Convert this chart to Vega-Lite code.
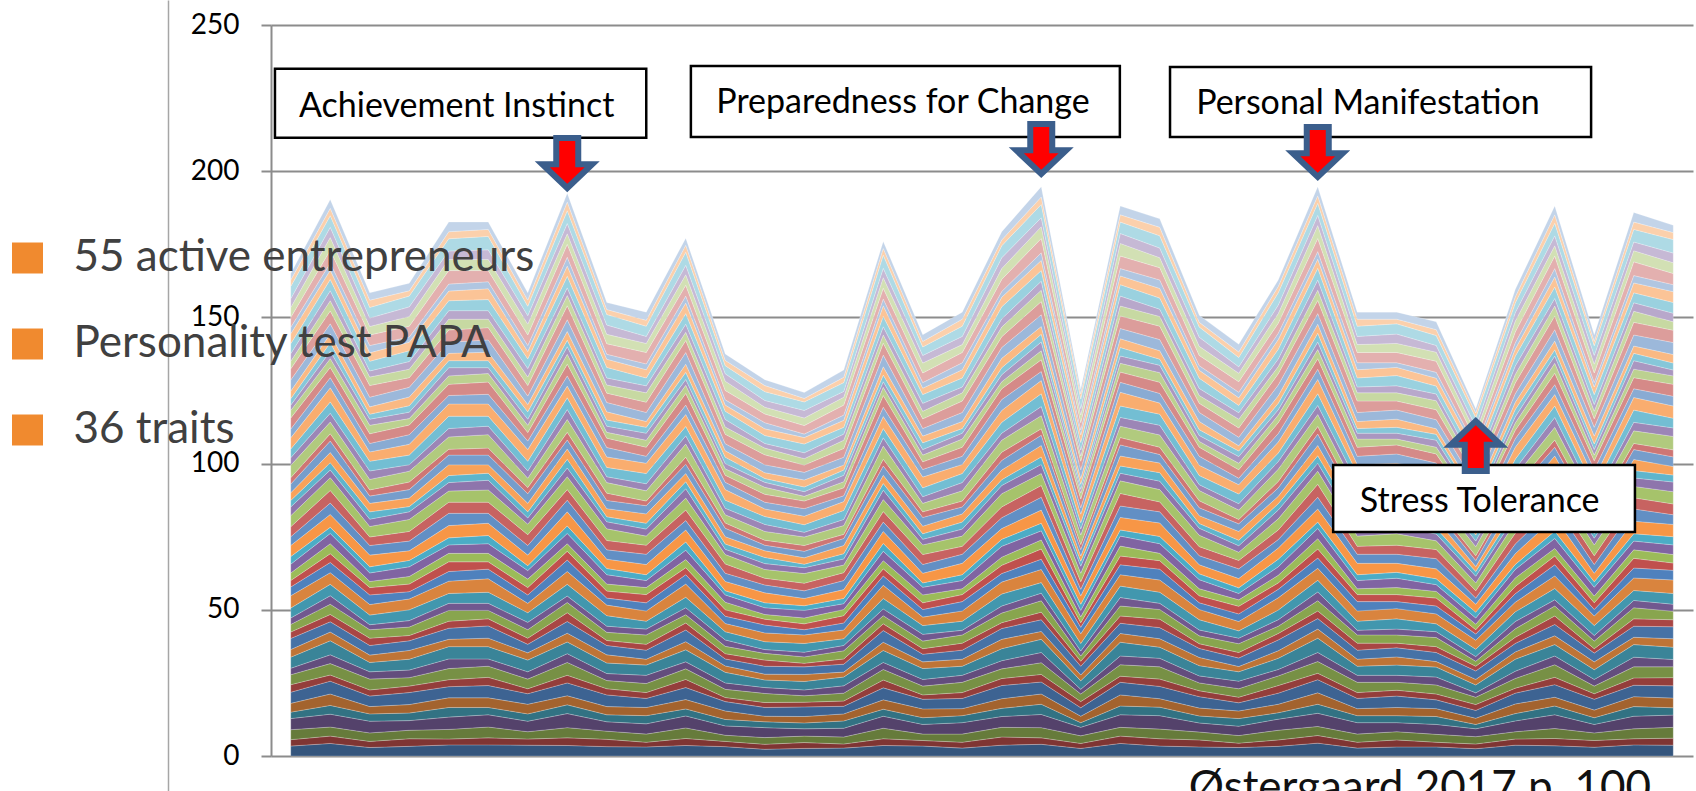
{
"$schema":"https://vega.github.io/schema/vega-lite/v6.json",
"autosize":{"type":"none"},
"padding":{"left":271,"top":25,"right":3,"bottom":35},
"width":1422,"height":731,
"background":"#ffffff",
"config":{"view":{"stroke":null},"font":"Lato"},
"title":{"text":"Østergaard 2017 p. 100","orient":"bottom","anchor":"end","frame":"group","offset":-14,"baseline":"alphabetic","font":"Lato","fontSize":44,"fontWeight":"normal","color":"#111111","dx":-42},
"datasets":{
"d":[
{"s":1,"t":1,"v":3.4},{"s":2,"t":1,"v":2.2},{"s":3,"t":1,"v":3.4},{"s":4,"t":1,"v":3.8},{"s":5,"t":1,"v":2.2},{"s":6,"t":1,"v":3.0},{"s":7,"t":1,"v":3.8},{"s":8,"t":1,"v":2.6},{"s":9,"t":1,"v":3.4},{"s":10,"t":1,"v":2.2},{"s":11,"t":1,"v":3.8},{"s":12,"t":1,"v":2.6},{"s":13,"t":1,"v":3.8},{"s":14,"t":1,"v":2.2},{"s":15,"t":1,"v":2.6},{"s":16,"t":1,"v":2.2},{"s":17,"t":1,"v":3.4},{"s":18,"t":1,"v":4.2},{"s":19,"t":1,"v":3.0},{"s":20,"t":1,"v":2.2},{"s":21,"t":1,"v":2.6},{"s":22,"t":1,"v":3.0},{"s":23,"t":1,"v":2.6},{"s":24,"t":1,"v":3.8},{"s":25,"t":1,"v":3.0},{"s":26,"t":1,"v":3.4},{"s":27,"t":1,"v":3.8},{"s":28,"t":1,"v":3.0},{"s":29,"t":1,"v":2.2},{"s":30,"t":1,"v":2.6},{"s":31,"t":1,"v":3.0},{"s":32,"t":1,"v":2.2},{"s":33,"t":1,"v":4.2},{"s":34,"t":1,"v":2.6},{"s":35,"t":1,"v":3.0},{"s":36,"t":1,"v":3.8},{"s":37,"t":1,"v":3.0},{"s":38,"t":1,"v":3.8},{"s":39,"t":1,"v":2.6},{"s":40,"t":1,"v":1.8},{"s":41,"t":1,"v":2.2},{"s":42,"t":1,"v":2.6},{"s":43,"t":1,"v":3.8},{"s":44,"t":1,"v":3.8},{"s":45,"t":1,"v":2.6},{"s":46,"t":1,"v":2.6},{"s":47,"t":1,"v":3.4},{"s":48,"t":1,"v":3.4},{"s":49,"t":1,"v":2.2},{"s":50,"t":1,"v":3.4},{"s":51,"t":1,"v":3.4},{"s":52,"t":1,"v":3.0},{"s":53,"t":1,"v":4.2},{"s":54,"t":1,"v":2.2},{"s":55,"t":1,"v":2.2},
{"s":1,"t":2,"v":4.3},{"s":2,"t":2,"v":2.5},{"s":3,"t":2,"v":3.1},{"s":4,"t":2,"v":4.4},{"s":5,"t":2,"v":3.0},{"s":6,"t":2,"v":3.9},{"s":7,"t":2,"v":4.4},{"s":8,"t":2,"v":2.1},{"s":9,"t":2,"v":3.9},{"s":10,"t":2,"v":3.0},{"s":11,"t":2,"v":4.8},{"s":12,"t":2,"v":3.0},{"s":13,"t":2,"v":3.5},{"s":14,"t":2,"v":2.5},{"s":15,"t":2,"v":3.5},{"s":16,"t":2,"v":2.9},{"s":17,"t":2,"v":3.9},{"s":18,"t":2,"v":4.0},{"s":19,"t":2,"v":3.5},{"s":20,"t":2,"v":3.0},{"s":21,"t":2,"v":3.4},{"s":22,"t":2,"v":3.5},{"s":23,"t":2,"v":2.1},{"s":24,"t":2,"v":4.4},{"s":25,"t":2,"v":3.9},{"s":26,"t":2,"v":4.3},{"s":27,"t":2,"v":4.4},{"s":28,"t":2,"v":2.6},{"s":29,"t":2,"v":2.5},{"s":30,"t":2,"v":3.5},{"s":31,"t":2,"v":3.9},{"s":32,"t":2,"v":2.5},{"s":33,"t":2,"v":4.0},{"s":34,"t":2,"v":3.0},{"s":35,"t":2,"v":3.9},{"s":36,"t":2,"v":4.8},{"s":37,"t":2,"v":3.5},{"s":38,"t":2,"v":3.5},{"s":39,"t":2,"v":3.0},{"s":40,"t":2,"v":2.5},{"s":41,"t":2,"v":2.9},{"s":42,"t":2,"v":3.0},{"s":43,"t":2,"v":3.5},{"s":44,"t":2,"v":4.4},{"s":45,"t":2,"v":3.5},{"s":46,"t":2,"v":3.4},{"s":47,"t":2,"v":3.9},{"s":48,"t":2,"v":3.1},{"s":49,"t":2,"v":2.5},{"s":50,"t":2,"v":4.4},{"s":51,"t":2,"v":4.3},{"s":52,"t":2,"v":3.5},{"s":53,"t":2,"v":4.0},{"s":54,"t":2,"v":2.5},{"s":55,"t":2,"v":3.0},
{"s":1,"t":3,"v":2.9},{"s":2,"t":3,"v":2.1},{"s":3,"t":3,"v":2.9},{"s":4,"t":3,"v":4.0},{"s":5,"t":3,"v":2.5},{"s":6,"t":3,"v":2.5},{"s":7,"t":3,"v":3.6},{"s":8,"t":3,"v":2.1},{"s":9,"t":3,"v":3.7},{"s":10,"t":3,"v":2.5},{"s":11,"t":3,"v":3.2},{"s":12,"t":3,"v":2.5},{"s":13,"t":3,"v":3.3},{"s":14,"t":3,"v":2.5},{"s":15,"t":3,"v":2.9},{"s":16,"t":3,"v":1.7},{"s":17,"t":3,"v":3.3},{"s":18,"t":3,"v":3.6},{"s":19,"t":3,"v":3.3},{"s":20,"t":3,"v":2.5},{"s":21,"t":3,"v":2.1},{"s":22,"t":3,"v":2.9},{"s":23,"t":3,"v":2.1},{"s":24,"t":3,"v":4.0},{"s":25,"t":3,"v":3.3},{"s":26,"t":3,"v":2.9},{"s":27,"t":3,"v":3.6},{"s":28,"t":3,"v":2.5},{"s":29,"t":3,"v":2.5},{"s":30,"t":3,"v":2.9},{"s":31,"t":3,"v":2.5},{"s":32,"t":3,"v":2.1},{"s":33,"t":3,"v":3.6},{"s":34,"t":3,"v":2.9},{"s":35,"t":3,"v":3.3},{"s":36,"t":3,"v":3.2},{"s":37,"t":3,"v":2.9},{"s":38,"t":3,"v":3.3},{"s":39,"t":3,"v":2.9},{"s":40,"t":3,"v":2.1},{"s":41,"t":3,"v":1.7},{"s":42,"t":3,"v":2.5},{"s":43,"t":3,"v":3.3},{"s":44,"t":3,"v":4.0},{"s":45,"t":3,"v":2.9},{"s":46,"t":3,"v":2.1},{"s":47,"t":3,"v":3.3},{"s":48,"t":3,"v":2.9},{"s":49,"t":3,"v":2.5},{"s":50,"t":3,"v":3.6},{"s":51,"t":3,"v":2.9},{"s":52,"t":3,"v":2.9},{"s":53,"t":3,"v":3.6},{"s":54,"t":3,"v":2.5},{"s":55,"t":3,"v":2.5},
{"s":1,"t":4,"v":3.3},{"s":2,"t":4,"v":2.6},{"s":3,"t":4,"v":2.9},{"s":4,"t":4,"v":3.3},{"s":5,"t":4,"v":2.6},{"s":6,"t":4,"v":2.9},{"s":7,"t":4,"v":4.1},{"s":8,"t":4,"v":2.2},{"s":9,"t":4,"v":2.9},{"s":10,"t":4,"v":2.6},{"s":11,"t":4,"v":3.7},{"s":12,"t":4,"v":3.0},{"s":13,"t":4,"v":3.3},{"s":14,"t":4,"v":1.8},{"s":15,"t":4,"v":2.9},{"s":16,"t":4,"v":2.2},{"s":17,"t":4,"v":3.7},{"s":18,"t":4,"v":3.7},{"s":19,"t":4,"v":2.5},{"s":20,"t":4,"v":2.6},{"s":21,"t":4,"v":2.6},{"s":22,"t":4,"v":3.3},{"s":23,"t":4,"v":2.2},{"s":24,"t":4,"v":3.3},{"s":25,"t":4,"v":3.3},{"s":26,"t":4,"v":3.3},{"s":27,"t":4,"v":4.1},{"s":28,"t":4,"v":2.6},{"s":29,"t":4,"v":1.8},{"s":30,"t":4,"v":2.9},{"s":31,"t":4,"v":2.9},{"s":32,"t":4,"v":2.6},{"s":33,"t":4,"v":3.7},{"s":34,"t":4,"v":2.2},{"s":35,"t":4,"v":3.3},{"s":36,"t":4,"v":3.7},{"s":37,"t":4,"v":3.3},{"s":38,"t":4,"v":3.3},{"s":39,"t":4,"v":2.2},{"s":40,"t":4,"v":2.2},{"s":41,"t":4,"v":2.2},{"s":42,"t":4,"v":3.0},{"s":43,"t":4,"v":3.3},{"s":44,"t":4,"v":3.3},{"s":45,"t":4,"v":2.9},{"s":46,"t":4,"v":2.6},{"s":47,"t":4,"v":3.7},{"s":48,"t":4,"v":2.9},{"s":49,"t":4,"v":1.8},{"s":50,"t":4,"v":3.7},{"s":51,"t":4,"v":3.3},{"s":52,"t":4,"v":3.3},{"s":53,"t":4,"v":3.7},{"s":54,"t":4,"v":1.8},{"s":55,"t":4,"v":2.6},
{"s":1,"t":5,"v":3.8},{"s":2,"t":5,"v":2.0},{"s":3,"t":5,"v":3.3},{"s":4,"t":5,"v":4.2},{"s":5,"t":5,"v":3.3},{"s":6,"t":5,"v":3.3},{"s":7,"t":5,"v":3.8},{"s":8,"t":5,"v":2.4},{"s":9,"t":5,"v":3.8},{"s":10,"t":5,"v":3.3},{"s":11,"t":5,"v":4.2},{"s":12,"t":5,"v":2.5},{"s":13,"t":5,"v":3.8},{"s":14,"t":5,"v":2.4},{"s":15,"t":5,"v":3.7},{"s":16,"t":5,"v":2.4},{"s":17,"t":5,"v":3.4},{"s":18,"t":5,"v":4.2},{"s":19,"t":5,"v":3.3},{"s":20,"t":5,"v":3.3},{"s":21,"t":5,"v":2.9},{"s":22,"t":5,"v":2.9},{"s":23,"t":5,"v":2.4},{"s":24,"t":5,"v":4.2},{"s":25,"t":5,"v":4.2},{"s":26,"t":5,"v":3.8},{"s":27,"t":5,"v":3.8},{"s":28,"t":5,"v":2.9},{"s":29,"t":5,"v":2.4},{"s":30,"t":5,"v":3.7},{"s":31,"t":5,"v":3.3},{"s":32,"t":5,"v":2.0},{"s":33,"t":5,"v":4.2},{"s":34,"t":5,"v":2.9},{"s":35,"t":5,"v":4.2},{"s":36,"t":5,"v":4.2},{"s":37,"t":5,"v":2.9},{"s":38,"t":5,"v":3.8},{"s":39,"t":5,"v":2.9},{"s":40,"t":5,"v":2.8},{"s":41,"t":5,"v":2.4},{"s":42,"t":5,"v":2.5},{"s":43,"t":5,"v":3.8},{"s":44,"t":5,"v":4.2},{"s":45,"t":5,"v":3.7},{"s":46,"t":5,"v":2.9},{"s":47,"t":5,"v":3.4},{"s":48,"t":5,"v":3.3},{"s":49,"t":5,"v":2.4},{"s":50,"t":5,"v":4.6},{"s":51,"t":5,"v":3.8},{"s":52,"t":5,"v":2.9},{"s":53,"t":5,"v":4.2},{"s":54,"t":5,"v":2.4},{"s":55,"t":5,"v":3.3},
{"s":1,"t":6,"v":3.8},{"s":2,"t":6,"v":2.4},{"s":3,"t":6,"v":3.7},{"s":4,"t":6,"v":4.2},{"s":5,"t":6,"v":2.5},{"s":6,"t":6,"v":3.3},{"s":7,"t":6,"v":4.2},{"s":8,"t":6,"v":2.8},{"s":9,"t":6,"v":3.8},{"s":10,"t":6,"v":2.5},{"s":11,"t":6,"v":4.2},{"s":12,"t":6,"v":2.9},{"s":13,"t":6,"v":4.2},{"s":14,"t":6,"v":2.4},{"s":15,"t":6,"v":2.9},{"s":16,"t":6,"v":2.4},{"s":17,"t":6,"v":3.8},{"s":18,"t":6,"v":4.6},{"s":19,"t":6,"v":3.3},{"s":20,"t":6,"v":2.5},{"s":21,"t":6,"v":2.9},{"s":22,"t":6,"v":3.3},{"s":23,"t":6,"v":2.8},{"s":24,"t":6,"v":4.2},{"s":25,"t":6,"v":3.4},{"s":26,"t":6,"v":3.8},{"s":27,"t":6,"v":4.2},{"s":28,"t":6,"v":3.3},{"s":29,"t":6,"v":2.4},{"s":30,"t":6,"v":2.9},{"s":31,"t":6,"v":3.3},{"s":32,"t":6,"v":2.4},{"s":33,"t":6,"v":4.6},{"s":34,"t":6,"v":2.9},{"s":35,"t":6,"v":3.4},{"s":36,"t":6,"v":4.2},{"s":37,"t":6,"v":3.3},{"s":38,"t":6,"v":4.2},{"s":39,"t":6,"v":2.9},{"s":40,"t":6,"v":2.0},{"s":41,"t":6,"v":2.4},{"s":42,"t":6,"v":2.9},{"s":43,"t":6,"v":4.2},{"s":44,"t":6,"v":4.2},{"s":45,"t":6,"v":2.9},{"s":46,"t":6,"v":2.9},{"s":47,"t":6,"v":3.8},{"s":48,"t":6,"v":3.7},{"s":49,"t":6,"v":2.4},{"s":50,"t":6,"v":3.8},{"s":51,"t":6,"v":3.8},{"s":52,"t":6,"v":3.3},{"s":53,"t":6,"v":4.6},{"s":54,"t":6,"v":2.4},{"s":55,"t":6,"v":2.5},
{"s":1,"t":7,"v":3.7},{"s":2,"t":7,"v":2.1},{"s":3,"t":7,"v":2.5},{"s":4,"t":7,"v":3.6},{"s":5,"t":7,"v":2.5},{"s":6,"t":7,"v":3.3},{"s":7,"t":7,"v":3.6},{"s":8,"t":7,"v":1.7},{"s":9,"t":7,"v":3.3},{"s":10,"t":7,"v":2.5},{"s":11,"t":7,"v":4.0},{"s":12,"t":7,"v":2.5},{"s":13,"t":7,"v":2.9},{"s":14,"t":7,"v":2.1},{"s":15,"t":7,"v":2.9},{"s":16,"t":7,"v":2.5},{"s":17,"t":7,"v":3.3},{"s":18,"t":7,"v":3.2},{"s":19,"t":7,"v":2.9},{"s":20,"t":7,"v":2.5},{"s":21,"t":7,"v":2.9},{"s":22,"t":7,"v":2.9},{"s":23,"t":7,"v":1.7},{"s":24,"t":7,"v":3.6},{"s":25,"t":7,"v":3.3},{"s":26,"t":7,"v":3.7},{"s":27,"t":7,"v":3.6},{"s":28,"t":7,"v":2.1},{"s":29,"t":7,"v":2.1},{"s":30,"t":7,"v":2.9},{"s":31,"t":7,"v":3.3},{"s":32,"t":7,"v":2.1},{"s":33,"t":7,"v":3.2},{"s":34,"t":7,"v":2.5},{"s":35,"t":7,"v":3.3},{"s":36,"t":7,"v":4.0},{"s":37,"t":7,"v":2.9},{"s":38,"t":7,"v":2.9},{"s":39,"t":7,"v":2.5},{"s":40,"t":7,"v":2.1},{"s":41,"t":7,"v":2.5},{"s":42,"t":7,"v":2.5},{"s":43,"t":7,"v":2.9},{"s":44,"t":7,"v":3.6},{"s":45,"t":7,"v":2.9},{"s":46,"t":7,"v":2.9},{"s":47,"t":7,"v":3.3},{"s":48,"t":7,"v":2.5},{"s":49,"t":7,"v":2.1},{"s":50,"t":7,"v":3.6},{"s":51,"t":7,"v":3.7},{"s":52,"t":7,"v":2.9},{"s":53,"t":7,"v":3.2},{"s":54,"t":7,"v":2.1},{"s":55,"t":7,"v":2.5},
{"s":1,"t":8,"v":3.6},{"s":2,"t":8,"v":2.6},{"s":3,"t":8,"v":3.5},{"s":4,"t":8,"v":4.8},{"s":5,"t":8,"v":3.0},{"s":6,"t":8,"v":3.1},{"s":7,"t":8,"v":4.4},{"s":8,"t":8,"v":2.6},{"s":9,"t":8,"v":4.4},{"s":10,"t":8,"v":3.0},{"s":11,"t":8,"v":4.0},{"s":12,"t":8,"v":3.0},{"s":13,"t":8,"v":4.0},{"s":14,"t":8,"v":3.0},{"s":15,"t":8,"v":3.5},{"s":16,"t":8,"v":2.2},{"s":17,"t":8,"v":4.0},{"s":18,"t":8,"v":4.4},{"s":19,"t":8,"v":3.9},{"s":20,"t":8,"v":3.0},{"s":21,"t":8,"v":2.6},{"s":22,"t":8,"v":3.5},{"s":23,"t":8,"v":2.6},{"s":24,"t":8,"v":4.8},{"s":25,"t":8,"v":4.0},{"s":26,"t":8,"v":3.6},{"s":27,"t":8,"v":4.4},{"s":28,"t":8,"v":3.0},{"s":29,"t":8,"v":3.0},{"s":30,"t":8,"v":3.5},{"s":31,"t":8,"v":3.1},{"s":32,"t":8,"v":2.6},{"s":33,"t":8,"v":4.4},{"s":34,"t":8,"v":3.4},{"s":35,"t":8,"v":4.0},{"s":36,"t":8,"v":4.0},{"s":37,"t":8,"v":3.5},{"s":38,"t":8,"v":4.0},{"s":39,"t":8,"v":3.4},{"s":40,"t":8,"v":2.6},{"s":41,"t":8,"v":2.2},{"s":42,"t":8,"v":3.0},{"s":43,"t":8,"v":4.0},{"s":44,"t":8,"v":4.8},{"s":45,"t":8,"v":3.5},{"s":46,"t":8,"v":2.6},{"s":47,"t":8,"v":4.0},{"s":48,"t":8,"v":3.5},{"s":49,"t":8,"v":3.0},{"s":50,"t":8,"v":4.4},{"s":51,"t":8,"v":3.6},{"s":52,"t":8,"v":3.5},{"s":53,"t":8,"v":4.4},{"s":54,"t":8,"v":3.0},{"s":55,"t":8,"v":3.0},
{"s":1,"t":9,"v":3.2},{"s":2,"t":9,"v":2.5},{"s":3,"t":9,"v":2.8},{"s":4,"t":9,"v":3.2},{"s":5,"t":9,"v":2.4},{"s":6,"t":9,"v":2.8},{"s":7,"t":9,"v":4.0},{"s":8,"t":9,"v":2.1},{"s":9,"t":9,"v":2.8},{"s":10,"t":9,"v":2.4},{"s":11,"t":9,"v":3.6},{"s":12,"t":9,"v":2.8},{"s":13,"t":9,"v":3.2},{"s":14,"t":9,"v":1.7},{"s":15,"t":9,"v":2.8},{"s":16,"t":9,"v":2.1},{"s":17,"t":9,"v":3.6},{"s":18,"t":9,"v":3.6},{"s":19,"t":9,"v":2.4},{"s":20,"t":9,"v":2.4},{"s":21,"t":9,"v":2.4},{"s":22,"t":9,"v":3.2},{"s":23,"t":9,"v":2.1},{"s":24,"t":9,"v":3.2},{"s":25,"t":9,"v":3.2},{"s":26,"t":9,"v":3.2},{"s":27,"t":9,"v":4.0},{"s":28,"t":9,"v":2.4},{"s":29,"t":9,"v":1.7},{"s":30,"t":9,"v":2.8},{"s":31,"t":9,"v":2.8},{"s":32,"t":9,"v":2.5},{"s":33,"t":9,"v":3.6},{"s":34,"t":9,"v":2.0},{"s":35,"t":9,"v":3.2},{"s":36,"t":9,"v":3.6},{"s":37,"t":9,"v":3.2},{"s":38,"t":9,"v":3.2},{"s":39,"t":9,"v":2.0},{"s":40,"t":9,"v":2.1},{"s":41,"t":9,"v":2.1},{"s":42,"t":9,"v":2.8},{"s":43,"t":9,"v":3.2},{"s":44,"t":9,"v":3.2},{"s":45,"t":9,"v":2.8},{"s":46,"t":9,"v":2.4},{"s":47,"t":9,"v":3.6},{"s":48,"t":9,"v":2.8},{"s":49,"t":9,"v":1.7},{"s":50,"t":9,"v":3.6},{"s":51,"t":9,"v":3.2},{"s":52,"t":9,"v":3.2},{"s":53,"t":9,"v":3.6},{"s":54,"t":9,"v":1.7},{"s":55,"t":9,"v":2.4},
{"s":1,"t":10,"v":3.1},{"s":2,"t":10,"v":1.6},{"s":3,"t":10,"v":2.8},{"s":4,"t":10,"v":3.5},{"s":5,"t":10,"v":2.8},{"s":6,"t":10,"v":2.8},{"s":7,"t":10,"v":3.1},{"s":8,"t":10,"v":2.0},{"s":9,"t":10,"v":3.1},{"s":10,"t":10,"v":2.8},{"s":11,"t":10,"v":3.5},{"s":12,"t":10,"v":2.0},{"s":13,"t":10,"v":3.1},{"s":14,"t":10,"v":2.0},{"s":15,"t":10,"v":3.2},{"s":16,"t":10,"v":2.0},{"s":17,"t":10,"v":2.7},{"s":18,"t":10,"v":3.5},{"s":19,"t":10,"v":2.8},{"s":20,"t":10,"v":2.8},{"s":21,"t":10,"v":2.4},{"s":22,"t":10,"v":2.4},{"s":23,"t":10,"v":2.0},{"s":24,"t":10,"v":3.5},{"s":25,"t":10,"v":3.5},{"s":26,"t":10,"v":3.1},{"s":27,"t":10,"v":3.1},{"s":28,"t":10,"v":2.4},{"s":29,"t":10,"v":2.0},{"s":30,"t":10,"v":3.2},{"s":31,"t":10,"v":2.8},{"s":32,"t":10,"v":1.6},{"s":33,"t":10,"v":3.5},{"s":34,"t":10,"v":2.4},{"s":35,"t":10,"v":3.5},{"s":36,"t":10,"v":3.5},{"s":37,"t":10,"v":2.4},{"s":38,"t":10,"v":3.1},{"s":39,"t":10,"v":2.4},{"s":40,"t":10,"v":2.4},{"s":41,"t":10,"v":2.0},{"s":42,"t":10,"v":2.0},{"s":43,"t":10,"v":3.1},{"s":44,"t":10,"v":3.5},{"s":45,"t":10,"v":3.2},{"s":46,"t":10,"v":2.4},{"s":47,"t":10,"v":2.7},{"s":48,"t":10,"v":2.8},{"s":49,"t":10,"v":2.0},{"s":50,"t":10,"v":3.9},{"s":51,"t":10,"v":3.1},{"s":52,"t":10,"v":2.4},{"s":53,"t":10,"v":3.5},{"s":54,"t":10,"v":2.0},{"s":55,"t":10,"v":2.8},
{"s":1,"t":11,"v":3.6},{"s":2,"t":11,"v":2.4},{"s":3,"t":11,"v":3.6},{"s":4,"t":11,"v":4.1},{"s":5,"t":11,"v":2.4},{"s":6,"t":11,"v":3.2},{"s":7,"t":11,"v":4.1},{"s":8,"t":11,"v":2.8},{"s":9,"t":11,"v":3.6},{"s":10,"t":11,"v":2.4},{"s":11,"t":11,"v":4.1},{"s":12,"t":11,"v":2.8},{"s":13,"t":11,"v":4.0},{"s":14,"t":11,"v":2.4},{"s":15,"t":11,"v":2.8},{"s":16,"t":11,"v":2.4},{"s":17,"t":11,"v":3.6},{"s":18,"t":11,"v":4.5},{"s":19,"t":11,"v":3.2},{"s":20,"t":11,"v":2.4},{"s":21,"t":11,"v":2.8},{"s":22,"t":11,"v":3.2},{"s":23,"t":11,"v":2.8},{"s":24,"t":11,"v":4.1},{"s":25,"t":11,"v":3.2},{"s":26,"t":11,"v":3.6},{"s":27,"t":11,"v":4.1},{"s":28,"t":11,"v":3.2},{"s":29,"t":11,"v":2.4},{"s":30,"t":11,"v":2.8},{"s":31,"t":11,"v":3.2},{"s":32,"t":11,"v":2.4},{"s":33,"t":11,"v":4.5},{"s":34,"t":11,"v":2.8},{"s":35,"t":11,"v":3.2},{"s":36,"t":11,"v":4.1},{"s":37,"t":11,"v":3.2},{"s":38,"t":11,"v":4.0},{"s":39,"t":11,"v":2.8},{"s":40,"t":11,"v":2.0},{"s":41,"t":11,"v":2.4},{"s":42,"t":11,"v":2.8},{"s":43,"t":11,"v":4.0},{"s":44,"t":11,"v":4.1},{"s":45,"t":11,"v":2.8},{"s":46,"t":11,"v":2.8},{"s":47,"t":11,"v":3.6},{"s":48,"t":11,"v":3.6},{"s":49,"t":11,"v":2.4},{"s":50,"t":11,"v":3.7},{"s":51,"t":11,"v":3.6},{"s":52,"t":11,"v":3.2},{"s":53,"t":11,"v":4.5},{"s":54,"t":11,"v":2.4},{"s":55,"t":11,"v":2.4},
{"s":1,"t":12,"v":3.2},{"s":2,"t":12,"v":1.8},{"s":3,"t":12,"v":2.1},{"s":4,"t":12,"v":3.2},{"s":5,"t":12,"v":2.2},{"s":6,"t":12,"v":2.9},{"s":7,"t":12,"v":3.2},{"s":8,"t":12,"v":1.4},{"s":9,"t":12,"v":2.8},{"s":10,"t":12,"v":2.2},{"s":11,"t":12,"v":3.6},{"s":12,"t":12,"v":2.2},{"s":13,"t":12,"v":2.4},{"s":14,"t":12,"v":1.8},{"s":15,"t":12,"v":2.5},{"s":16,"t":12,"v":2.2},{"s":17,"t":12,"v":2.8},{"s":18,"t":12,"v":2.8},{"s":19,"t":12,"v":2.5},{"s":20,"t":12,"v":2.2},{"s":21,"t":12,"v":2.6},{"s":22,"t":12,"v":2.5},{"s":23,"t":12,"v":1.4},{"s":24,"t":12,"v":3.2},{"s":25,"t":12,"v":2.8},{"s":26,"t":12,"v":3.2},{"s":27,"t":12,"v":3.2},{"s":28,"t":12,"v":1.8},{"s":29,"t":12,"v":1.8},{"s":30,"t":12,"v":2.5},{"s":31,"t":12,"v":2.9},{"s":32,"t":12,"v":1.8},{"s":33,"t":12,"v":2.8},{"s":34,"t":12,"v":2.2},{"s":35,"t":12,"v":2.8},{"s":36,"t":12,"v":3.6},{"s":37,"t":12,"v":2.5},{"s":38,"t":12,"v":2.4},{"s":39,"t":12,"v":2.2},{"s":40,"t":12,"v":1.8},{"s":41,"t":12,"v":2.2},{"s":42,"t":12,"v":2.2},{"s":43,"t":12,"v":2.4},{"s":44,"t":12,"v":3.2},{"s":45,"t":12,"v":2.5},{"s":46,"t":12,"v":2.6},{"s":47,"t":12,"v":2.8},{"s":48,"t":12,"v":2.1},{"s":49,"t":12,"v":1.8},{"s":50,"t":12,"v":3.2},{"s":51,"t":12,"v":3.2},{"s":52,"t":12,"v":2.5},{"s":53,"t":12,"v":2.8},{"s":54,"t":12,"v":1.8},{"s":55,"t":12,"v":2.2},
{"s":1,"t":13,"v":2.3},{"s":2,"t":13,"v":1.7},{"s":3,"t":13,"v":2.3},{"s":4,"t":13,"v":3.4},{"s":5,"t":13,"v":2.0},{"s":6,"t":13,"v":1.9},{"s":7,"t":13,"v":3.0},{"s":8,"t":13,"v":1.7},{"s":9,"t":13,"v":3.1},{"s":10,"t":13,"v":2.0},{"s":11,"t":13,"v":2.6},{"s":12,"t":13,"v":2.0},{"s":13,"t":13,"v":2.7},{"s":14,"t":13,"v":2.1},{"s":15,"t":13,"v":2.3},{"s":16,"t":13,"v":1.3},{"s":17,"t":13,"v":2.7},{"s":18,"t":13,"v":3.0},{"s":19,"t":13,"v":2.7},{"s":20,"t":13,"v":2.0},{"s":21,"t":13,"v":1.6},{"s":22,"t":13,"v":2.3},{"s":23,"t":13,"v":1.7},{"s":24,"t":13,"v":3.4},{"s":25,"t":13,"v":2.7},{"s":26,"t":13,"v":2.3},{"s":27,"t":13,"v":3.0},{"s":28,"t":13,"v":2.0},{"s":29,"t":13,"v":2.1},{"s":30,"t":13,"v":2.3},{"s":31,"t":13,"v":1.9},{"s":32,"t":13,"v":1.7},{"s":33,"t":13,"v":3.0},{"s":34,"t":13,"v":2.4},{"s":35,"t":13,"v":2.7},{"s":36,"t":13,"v":2.6},{"s":37,"t":13,"v":2.3},{"s":38,"t":13,"v":2.7},{"s":39,"t":13,"v":2.4},{"s":40,"t":13,"v":1.7},{"s":41,"t":13,"v":1.3},{"s":42,"t":13,"v":2.0},{"s":43,"t":13,"v":2.7},{"s":44,"t":13,"v":3.4},{"s":45,"t":13,"v":2.3},{"s":46,"t":13,"v":1.6},{"s":47,"t":13,"v":2.7},{"s":48,"t":13,"v":2.3},{"s":49,"t":13,"v":2.1},{"s":50,"t":13,"v":3.0},{"s":51,"t":13,"v":2.3},{"s":52,"t":13,"v":2.3},{"s":53,"t":13,"v":3.0},{"s":54,"t":13,"v":2.1},{"s":55,"t":13,"v":2.0},
{"s":1,"t":14,"v":2.6},{"s":2,"t":14,"v":2.0},{"s":3,"t":14,"v":2.2},{"s":4,"t":14,"v":2.5},{"s":5,"t":14,"v":2.0},{"s":6,"t":14,"v":2.2},{"s":7,"t":14,"v":3.3},{"s":8,"t":14,"v":1.6},{"s":9,"t":14,"v":2.2},{"s":10,"t":14,"v":2.0},{"s":11,"t":14,"v":2.9},{"s":12,"t":14,"v":2.4},{"s":13,"t":14,"v":2.6},{"s":14,"t":14,"v":1.2},{"s":15,"t":14,"v":2.2},{"s":16,"t":14,"v":1.6},{"s":17,"t":14,"v":3.0},{"s":18,"t":14,"v":2.9},{"s":19,"t":14,"v":1.8},{"s":20,"t":14,"v":2.0},{"s":21,"t":14,"v":2.0},{"s":22,"t":14,"v":2.6},{"s":23,"t":14,"v":1.6},{"s":24,"t":14,"v":2.5},{"s":25,"t":14,"v":2.6},{"s":26,"t":14,"v":2.6},{"s":27,"t":14,"v":3.3},{"s":28,"t":14,"v":2.0},{"s":29,"t":14,"v":1.2},{"s":30,"t":14,"v":2.2},{"s":31,"t":14,"v":2.2},{"s":32,"t":14,"v":2.0},{"s":33,"t":14,"v":2.9},{"s":34,"t":14,"v":1.6},{"s":35,"t":14,"v":2.6},{"s":36,"t":14,"v":2.9},{"s":37,"t":14,"v":2.6},{"s":38,"t":14,"v":2.6},{"s":39,"t":14,"v":1.6},{"s":40,"t":14,"v":1.6},{"s":41,"t":14,"v":1.6},{"s":42,"t":14,"v":2.4},{"s":43,"t":14,"v":2.6},{"s":44,"t":14,"v":2.5},{"s":45,"t":14,"v":2.2},{"s":46,"t":14,"v":2.0},{"s":47,"t":14,"v":3.0},{"s":48,"t":14,"v":2.2},{"s":49,"t":14,"v":1.2},{"s":50,"t":14,"v":2.9},{"s":51,"t":14,"v":2.6},{"s":52,"t":14,"v":2.6},{"s":53,"t":14,"v":2.9},{"s":54,"t":14,"v":1.2},{"s":55,"t":14,"v":2.0},
{"s":1,"t":15,"v":2.7},{"s":2,"t":15,"v":1.4},{"s":3,"t":15,"v":2.4},{"s":4,"t":15,"v":3.0},{"s":5,"t":15,"v":2.5},{"s":6,"t":15,"v":2.4},{"s":7,"t":15,"v":2.6},{"s":8,"t":15,"v":1.8},{"s":9,"t":15,"v":2.7},{"s":10,"t":15,"v":2.5},{"s":11,"t":15,"v":3.0},{"s":12,"t":15,"v":1.7},{"s":13,"t":15,"v":2.7},{"s":14,"t":15,"v":1.8},{"s":15,"t":15,"v":2.8},{"s":16,"t":15,"v":1.8},{"s":17,"t":15,"v":2.3},{"s":18,"t":15,"v":3.0},{"s":19,"t":15,"v":2.4},{"s":20,"t":15,"v":2.5},{"s":21,"t":15,"v":2.1},{"s":22,"t":15,"v":2.0},{"s":23,"t":15,"v":1.8},{"s":24,"t":15,"v":3.0},{"s":25,"t":15,"v":3.1},{"s":26,"t":15,"v":2.7},{"s":27,"t":15,"v":2.6},{"s":28,"t":15,"v":2.1},{"s":29,"t":15,"v":1.8},{"s":30,"t":15,"v":2.8},{"s":31,"t":15,"v":2.4},{"s":32,"t":15,"v":1.4},{"s":33,"t":15,"v":3.0},{"s":34,"t":15,"v":2.1},{"s":35,"t":15,"v":3.1},{"s":36,"t":15,"v":3.0},{"s":37,"t":15,"v":2.0},{"s":38,"t":15,"v":2.7},{"s":39,"t":15,"v":2.1},{"s":40,"t":15,"v":2.2},{"s":41,"t":15,"v":1.8},{"s":42,"t":15,"v":1.7},{"s":43,"t":15,"v":2.7},{"s":44,"t":15,"v":3.0},{"s":45,"t":15,"v":2.8},{"s":46,"t":15,"v":2.1},{"s":47,"t":15,"v":2.3},{"s":48,"t":15,"v":2.4},{"s":49,"t":15,"v":1.8},{"s":50,"t":15,"v":3.4},{"s":51,"t":15,"v":2.7},{"s":52,"t":15,"v":2.0},{"s":53,"t":15,"v":3.0},{"s":54,"t":15,"v":1.8},{"s":55,"t":15,"v":2.5},
{"s":1,"t":16,"v":3.6},{"s":2,"t":16,"v":2.3},{"s":3,"t":16,"v":3.6},{"s":4,"t":16,"v":4.1},{"s":5,"t":16,"v":2.4},{"s":6,"t":16,"v":3.2},{"s":7,"t":16,"v":4.1},{"s":8,"t":16,"v":2.7},{"s":9,"t":16,"v":3.6},{"s":10,"t":16,"v":2.4},{"s":11,"t":16,"v":4.1},{"s":12,"t":16,"v":2.8},{"s":13,"t":16,"v":4.0},{"s":14,"t":16,"v":2.3},{"s":15,"t":16,"v":2.8},{"s":16,"t":16,"v":2.3},{"s":17,"t":16,"v":3.6},{"s":18,"t":16,"v":4.5},{"s":19,"t":16,"v":3.2},{"s":20,"t":16,"v":2.4},{"s":21,"t":16,"v":2.8},{"s":22,"t":16,"v":3.2},{"s":23,"t":16,"v":2.7},{"s":24,"t":16,"v":4.1},{"s":25,"t":16,"v":3.2},{"s":26,"t":16,"v":3.6},{"s":27,"t":16,"v":4.1},{"s":28,"t":16,"v":3.2},{"s":29,"t":16,"v":2.3},{"s":30,"t":16,"v":2.8},{"s":31,"t":16,"v":3.2},{"s":32,"t":16,"v":2.3},{"s":33,"t":16,"v":4.5},{"s":34,"t":16,"v":2.8},{"s":35,"t":16,"v":3.2},{"s":36,"t":16,"v":4.1},{"s":37,"t":16,"v":3.2},{"s":38,"t":16,"v":4.0},{"s":39,"t":16,"v":2.8},{"s":40,"t":16,"v":1.9},{"s":41,"t":16,"v":2.3},{"s":42,"t":16,"v":2.8},{"s":43,"t":16,"v":4.0},{"s":44,"t":16,"v":4.1},{"s":45,"t":16,"v":2.8},{"s":46,"t":16,"v":2.8},{"s":47,"t":16,"v":3.6},{"s":48,"t":16,"v":3.6},{"s":49,"t":16,"v":2.3},{"s":50,"t":16,"v":3.7},{"s":51,"t":16,"v":3.6},{"s":52,"t":16,"v":3.2},{"s":53,"t":16,"v":4.5},{"s":54,"t":16,"v":2.3},{"s":55,"t":16,"v":2.4},
{"s":1,"t":17,"v":3.4},{"s":2,"t":17,"v":1.9},{"s":3,"t":17,"v":2.2},{"s":4,"t":17,"v":3.3},{"s":5,"t":17,"v":2.3},{"s":6,"t":17,"v":3.0},{"s":7,"t":17,"v":3.3},{"s":8,"t":17,"v":1.5},{"s":9,"t":17,"v":3.0},{"s":10,"t":17,"v":2.3},{"s":11,"t":17,"v":3.7},{"s":12,"t":17,"v":2.3},{"s":13,"t":17,"v":2.6},{"s":14,"t":17,"v":1.9},{"s":15,"t":17,"v":2.6},{"s":16,"t":17,"v":2.3},{"s":17,"t":17,"v":3.0},{"s":18,"t":17,"v":2.9},{"s":19,"t":17,"v":2.6},{"s":20,"t":17,"v":2.3},{"s":21,"t":17,"v":2.7},{"s":22,"t":17,"v":2.6},{"s":23,"t":17,"v":1.5},{"s":24,"t":17,"v":3.3},{"s":25,"t":17,"v":3.0},{"s":26,"t":17,"v":3.4},{"s":27,"t":17,"v":3.3},{"s":28,"t":17,"v":1.9},{"s":29,"t":17,"v":1.9},{"s":30,"t":17,"v":2.6},{"s":31,"t":17,"v":3.0},{"s":32,"t":17,"v":1.9},{"s":33,"t":17,"v":2.9},{"s":34,"t":17,"v":2.3},{"s":35,"t":17,"v":3.0},{"s":36,"t":17,"v":3.7},{"s":37,"t":17,"v":2.6},{"s":38,"t":17,"v":2.6},{"s":39,"t":17,"v":2.3},{"s":40,"t":17,"v":1.9},{"s":41,"t":17,"v":2.3},{"s":42,"t":17,"v":2.3},{"s":43,"t":17,"v":2.6},{"s":44,"t":17,"v":3.3},{"s":45,"t":17,"v":2.6},{"s":46,"t":17,"v":2.7},{"s":47,"t":17,"v":3.0},{"s":48,"t":17,"v":2.2},{"s":49,"t":17,"v":1.9},{"s":50,"t":17,"v":3.3},{"s":51,"t":17,"v":3.4},{"s":52,"t":17,"v":2.6},{"s":53,"t":17,"v":2.9},{"s":54,"t":17,"v":1.9},{"s":55,"t":17,"v":2.3},
{"s":1,"t":18,"v":2.7},{"s":2,"t":18,"v":2.0},{"s":3,"t":18,"v":2.8},{"s":4,"t":18,"v":3.9},{"s":5,"t":18,"v":2.4},{"s":6,"t":18,"v":2.4},{"s":7,"t":18,"v":3.5},{"s":8,"t":18,"v":2.0},{"s":9,"t":18,"v":3.5},{"s":10,"t":18,"v":2.4},{"s":11,"t":18,"v":3.1},{"s":12,"t":18,"v":2.4},{"s":13,"t":18,"v":3.1},{"s":14,"t":18,"v":2.4},{"s":15,"t":18,"v":2.8},{"s":16,"t":18,"v":1.6},{"s":17,"t":18,"v":3.1},{"s":18,"t":18,"v":3.5},{"s":19,"t":18,"v":3.2},{"s":20,"t":18,"v":2.4},{"s":21,"t":18,"v":2.0},{"s":22,"t":18,"v":2.8},{"s":23,"t":18,"v":2.0},{"s":24,"t":18,"v":3.9},{"s":25,"t":18,"v":3.1},{"s":26,"t":18,"v":2.7},{"s":27,"t":18,"v":3.5},{"s":28,"t":18,"v":2.4},{"s":29,"t":18,"v":2.4},{"s":30,"t":18,"v":2.8},{"s":31,"t":18,"v":2.4},{"s":32,"t":18,"v":2.0},{"s":33,"t":18,"v":3.5},{"s":34,"t":18,"v":2.8},{"s":35,"t":18,"v":3.1},{"s":36,"t":18,"v":3.1},{"s":37,"t":18,"v":2.8},{"s":38,"t":18,"v":3.1},{"s":39,"t":18,"v":2.8},{"s":40,"t":18,"v":2.0},{"s":41,"t":18,"v":1.6},{"s":42,"t":18,"v":2.4},{"s":43,"t":18,"v":3.1},{"s":44,"t":18,"v":3.9},{"s":45,"t":18,"v":2.8},{"s":46,"t":18,"v":2.0},{"s":47,"t":18,"v":3.1},{"s":48,"t":18,"v":2.8},{"s":49,"t":18,"v":2.4},{"s":50,"t":18,"v":3.5},{"s":51,"t":18,"v":2.7},{"s":52,"t":18,"v":2.8},{"s":53,"t":18,"v":3.5},{"s":54,"t":18,"v":2.4},{"s":55,"t":18,"v":2.4},
{"s":1,"t":19,"v":3.7},{"s":2,"t":19,"v":2.8},{"s":3,"t":19,"v":3.3},{"s":4,"t":19,"v":3.7},{"s":5,"t":19,"v":2.8},{"s":6,"t":19,"v":3.3},{"s":7,"t":19,"v":4.5},{"s":8,"t":19,"v":2.4},{"s":9,"t":19,"v":3.3},{"s":10,"t":19,"v":2.8},{"s":11,"t":19,"v":4.1},{"s":12,"t":19,"v":3.2},{"s":13,"t":19,"v":3.7},{"s":14,"t":19,"v":2.0},{"s":15,"t":19,"v":3.3},{"s":16,"t":19,"v":2.4},{"s":17,"t":19,"v":4.1},{"s":18,"t":19,"v":4.1},{"s":19,"t":19,"v":2.9},{"s":20,"t":19,"v":2.8},{"s":21,"t":19,"v":2.8},{"s":22,"t":19,"v":3.7},{"s":23,"t":19,"v":2.4},{"s":24,"t":19,"v":3.7},{"s":25,"t":19,"v":3.7},{"s":26,"t":19,"v":3.7},{"s":27,"t":19,"v":4.5},{"s":28,"t":19,"v":2.8},{"s":29,"t":19,"v":2.0},{"s":30,"t":19,"v":3.3},{"s":31,"t":19,"v":3.3},{"s":32,"t":19,"v":2.8},{"s":33,"t":19,"v":4.1},{"s":34,"t":19,"v":2.4},{"s":35,"t":19,"v":3.7},{"s":36,"t":19,"v":4.1},{"s":37,"t":19,"v":3.7},{"s":38,"t":19,"v":3.7},{"s":39,"t":19,"v":2.4},{"s":40,"t":19,"v":2.4},{"s":41,"t":19,"v":2.4},{"s":42,"t":19,"v":3.2},{"s":43,"t":19,"v":3.7},{"s":44,"t":19,"v":3.7},{"s":45,"t":19,"v":3.3},{"s":46,"t":19,"v":2.8},{"s":47,"t":19,"v":4.1},{"s":48,"t":19,"v":3.3},{"s":49,"t":19,"v":2.0},{"s":50,"t":19,"v":4.1},{"s":51,"t":19,"v":3.7},{"s":52,"t":19,"v":3.7},{"s":53,"t":19,"v":4.1},{"s":54,"t":19,"v":2.0},{"s":55,"t":19,"v":2.8},
{"s":1,"t":20,"v":4.0},{"s":2,"t":20,"v":2.2},{"s":3,"t":20,"v":3.5},{"s":4,"t":20,"v":4.5},{"s":5,"t":20,"v":3.5},{"s":6,"t":20,"v":3.5},{"s":7,"t":20,"v":4.1},{"s":8,"t":20,"v":2.6},{"s":9,"t":20,"v":4.0},{"s":10,"t":20,"v":3.5},{"s":11,"t":20,"v":4.5},{"s":12,"t":20,"v":2.7},{"s":13,"t":20,"v":4.0},{"s":14,"t":20,"v":2.6},{"s":15,"t":20,"v":3.9},{"s":16,"t":20,"v":2.6},{"s":17,"t":20,"v":3.6},{"s":18,"t":20,"v":4.5},{"s":19,"t":20,"v":3.5},{"s":20,"t":20,"v":3.5},{"s":21,"t":20,"v":3.1},{"s":22,"t":20,"v":3.1},{"s":23,"t":20,"v":2.6},{"s":24,"t":20,"v":4.5},{"s":25,"t":20,"v":4.4},{"s":26,"t":20,"v":4.0},{"s":27,"t":20,"v":4.1},{"s":28,"t":20,"v":3.1},{"s":29,"t":20,"v":2.6},{"s":30,"t":20,"v":3.9},{"s":31,"t":20,"v":3.5},{"s":32,"t":20,"v":2.2},{"s":33,"t":20,"v":4.5},{"s":34,"t":20,"v":3.1},{"s":35,"t":20,"v":4.4},{"s":36,"t":20,"v":4.5},{"s":37,"t":20,"v":3.1},{"s":38,"t":20,"v":4.0},{"s":39,"t":20,"v":3.1},{"s":40,"t":20,"v":3.0},{"s":41,"t":20,"v":2.6},{"s":42,"t":20,"v":2.7},{"s":43,"t":20,"v":4.0},{"s":44,"t":20,"v":4.5},{"s":45,"t":20,"v":3.9},{"s":46,"t":20,"v":3.1},{"s":47,"t":20,"v":3.6},{"s":48,"t":20,"v":3.5},{"s":49,"t":20,"v":2.6},{"s":50,"t":20,"v":4.9},{"s":51,"t":20,"v":4.0},{"s":52,"t":20,"v":3.1},{"s":53,"t":20,"v":4.5},{"s":54,"t":20,"v":2.6},{"s":55,"t":20,"v":3.5},
{"s":1,"t":21,"v":2.6},{"s":2,"t":21,"v":1.7},{"s":3,"t":21,"v":2.6},{"s":4,"t":21,"v":2.9},{"s":5,"t":21,"v":1.6},{"s":6,"t":21,"v":2.2},{"s":7,"t":21,"v":2.9},{"s":8,"t":21,"v":2.1},{"s":9,"t":21,"v":2.6},{"s":10,"t":21,"v":1.6},{"s":11,"t":21,"v":2.9},{"s":12,"t":21,"v":2.0},{"s":13,"t":21,"v":3.0},{"s":14,"t":21,"v":1.7},{"s":15,"t":21,"v":1.8},{"s":16,"t":21,"v":1.7},{"s":17,"t":21,"v":2.6},{"s":18,"t":21,"v":3.3},{"s":19,"t":21,"v":2.2},{"s":20,"t":21,"v":1.6},{"s":21,"t":21,"v":2.0},{"s":22,"t":21,"v":2.2},{"s":23,"t":21,"v":2.1},{"s":24,"t":21,"v":2.9},{"s":25,"t":21,"v":2.2},{"s":26,"t":21,"v":2.6},{"s":27,"t":21,"v":2.9},{"s":28,"t":21,"v":2.4},{"s":29,"t":21,"v":1.7},{"s":30,"t":21,"v":1.8},{"s":31,"t":21,"v":2.2},{"s":32,"t":21,"v":1.7},{"s":33,"t":21,"v":3.3},{"s":34,"t":21,"v":2.0},{"s":35,"t":21,"v":2.2},{"s":36,"t":21,"v":2.9},{"s":37,"t":21,"v":2.2},{"s":38,"t":21,"v":3.0},{"s":39,"t":21,"v":2.0},{"s":40,"t":21,"v":1.3},{"s":41,"t":21,"v":1.7},{"s":42,"t":21,"v":2.0},{"s":43,"t":21,"v":3.0},{"s":44,"t":21,"v":2.9},{"s":45,"t":21,"v":1.8},{"s":46,"t":21,"v":2.0},{"s":47,"t":21,"v":2.6},{"s":48,"t":21,"v":2.6},{"s":49,"t":21,"v":1.7},{"s":50,"t":21,"v":2.5},{"s":51,"t":21,"v":2.6},{"s":52,"t":21,"v":2.2},{"s":53,"t":21,"v":3.3},{"s":54,"t":21,"v":1.7},{"s":55,"t":21,"v":1.6},
{"s":1,"t":22,"v":4.3},{"s":2,"t":22,"v":2.5},{"s":3,"t":22,"v":3.0},{"s":4,"t":22,"v":4.3},{"s":5,"t":22,"v":3.0},{"s":6,"t":22,"v":3.8},{"s":7,"t":22,"v":4.3},{"s":8,"t":22,"v":2.1},{"s":9,"t":22,"v":3.9},{"s":10,"t":22,"v":3.0},{"s":11,"t":22,"v":4.7},{"s":12,"t":22,"v":3.0},{"s":13,"t":22,"v":3.5},{"s":14,"t":22,"v":2.5},{"s":15,"t":22,"v":3.4},{"s":16,"t":22,"v":2.9},{"s":17,"t":22,"v":3.9},{"s":18,"t":22,"v":3.9},{"s":19,"t":22,"v":3.4},{"s":20,"t":22,"v":3.0},{"s":21,"t":22,"v":3.4},{"s":22,"t":22,"v":3.4},{"s":23,"t":22,"v":2.1},{"s":24,"t":22,"v":4.3},{"s":25,"t":22,"v":3.9},{"s":26,"t":22,"v":4.3},{"s":27,"t":22,"v":4.3},{"s":28,"t":22,"v":2.6},{"s":29,"t":22,"v":2.5},{"s":30,"t":22,"v":3.4},{"s":31,"t":22,"v":3.8},{"s":32,"t":22,"v":2.5},{"s":33,"t":22,"v":3.9},{"s":34,"t":22,"v":3.0},{"s":35,"t":22,"v":3.9},{"s":36,"t":22,"v":4.7},{"s":37,"t":22,"v":3.4},{"s":38,"t":22,"v":3.5},{"s":39,"t":22,"v":3.0},{"s":40,"t":22,"v":2.5},{"s":41,"t":22,"v":2.9},{"s":42,"t":22,"v":3.0},{"s":43,"t":22,"v":3.5},{"s":44,"t":22,"v":4.3},{"s":45,"t":22,"v":3.4},{"s":46,"t":22,"v":3.4},{"s":47,"t":22,"v":3.9},{"s":48,"t":22,"v":3.0},{"s":49,"t":22,"v":2.5},{"s":50,"t":22,"v":4.3},{"s":51,"t":22,"v":4.3},{"s":52,"t":22,"v":3.4},{"s":53,"t":22,"v":3.9},{"s":54,"t":22,"v":2.5},{"s":55,"t":22,"v":3.0},
{"s":1,"t":23,"v":3.4},{"s":2,"t":23,"v":2.5},{"s":3,"t":23,"v":3.3},{"s":4,"t":23,"v":4.6},{"s":5,"t":23,"v":2.9},{"s":6,"t":23,"v":2.9},{"s":7,"t":23,"v":4.2},{"s":8,"t":23,"v":2.5},{"s":9,"t":23,"v":4.2},{"s":10,"t":23,"v":2.9},{"s":11,"t":23,"v":3.8},{"s":12,"t":23,"v":2.9},{"s":13,"t":23,"v":3.8},{"s":14,"t":23,"v":2.9},{"s":15,"t":23,"v":3.3},{"s":16,"t":23,"v":2.1},{"s":17,"t":23,"v":3.8},{"s":18,"t":23,"v":4.2},{"s":19,"t":23,"v":3.7},{"s":20,"t":23,"v":2.9},{"s":21,"t":23,"v":2.5},{"s":22,"t":23,"v":3.3},{"s":23,"t":23,"v":2.5},{"s":24,"t":23,"v":4.6},{"s":25,"t":23,"v":3.8},{"s":26,"t":23,"v":3.4},{"s":27,"t":23,"v":4.2},{"s":28,"t":23,"v":2.9},{"s":29,"t":23,"v":2.9},{"s":30,"t":23,"v":3.3},{"s":31,"t":23,"v":2.9},{"s":32,"t":23,"v":2.5},{"s":33,"t":23,"v":4.2},{"s":34,"t":23,"v":3.3},{"s":35,"t":23,"v":3.8},{"s":36,"t":23,"v":3.8},{"s":37,"t":23,"v":3.3},{"s":38,"t":23,"v":3.8},{"s":39,"t":23,"v":3.3},{"s":40,"t":23,"v":2.5},{"s":41,"t":23,"v":2.1},{"s":42,"t":23,"v":2.9},{"s":43,"t":23,"v":3.8},{"s":44,"t":23,"v":4.6},{"s":45,"t":23,"v":3.3},{"s":46,"t":23,"v":2.5},{"s":47,"t":23,"v":3.8},{"s":48,"t":23,"v":3.3},{"s":49,"t":23,"v":2.9},{"s":50,"t":23,"v":4.2},{"s":51,"t":23,"v":3.4},{"s":52,"t":23,"v":3.3},{"s":53,"t":23,"v":4.2},{"s":54,"t":23,"v":2.9},{"s":55,"t":23,"v":2.9},
{"s":1,"t":24,"v":3.1},{"s":2,"t":24,"v":2.4},{"s":3,"t":24,"v":2.7},{"s":4,"t":24,"v":3.1},{"s":5,"t":24,"v":2.4},{"s":6,"t":24,"v":2.7},{"s":7,"t":24,"v":3.9},{"s":8,"t":24,"v":2.0},{"s":9,"t":24,"v":2.7},{"s":10,"t":24,"v":2.4},{"s":11,"t":24,"v":3.5},{"s":12,"t":24,"v":2.8},{"s":13,"t":24,"v":3.1},{"s":14,"t":24,"v":1.6},{"s":15,"t":24,"v":2.7},{"s":16,"t":24,"v":2.0},{"s":17,"t":24,"v":3.5},{"s":18,"t":24,"v":3.5},{"s":19,"t":24,"v":2.3},{"s":20,"t":24,"v":2.4},{"s":21,"t":24,"v":2.4},{"s":22,"t":24,"v":3.1},{"s":23,"t":24,"v":2.0},{"s":24,"t":24,"v":3.1},{"s":25,"t":24,"v":3.1},{"s":26,"t":24,"v":3.1},{"s":27,"t":24,"v":3.9},{"s":28,"t":24,"v":2.4},{"s":29,"t":24,"v":1.6},{"s":30,"t":24,"v":2.7},{"s":31,"t":24,"v":2.7},{"s":32,"t":24,"v":2.4},{"s":33,"t":24,"v":3.5},{"s":34,"t":24,"v":2.0},{"s":35,"t":24,"v":3.1},{"s":36,"t":24,"v":3.5},{"s":37,"t":24,"v":3.1},{"s":38,"t":24,"v":3.1},{"s":39,"t":24,"v":2.0},{"s":40,"t":24,"v":2.0},{"s":41,"t":24,"v":2.0},{"s":42,"t":24,"v":2.8},{"s":43,"t":24,"v":3.1},{"s":44,"t":24,"v":3.1},{"s":45,"t":24,"v":2.7},{"s":46,"t":24,"v":2.4},{"s":47,"t":24,"v":3.5},{"s":48,"t":24,"v":2.7},{"s":49,"t":24,"v":1.6},{"s":50,"t":24,"v":3.5},{"s":51,"t":24,"v":3.1},{"s":52,"t":24,"v":3.1},{"s":53,"t":24,"v":3.5},{"s":54,"t":24,"v":1.6},{"s":55,"t":24,"v":2.4},
{"s":1,"t":25,"v":2.9},{"s":2,"t":25,"v":1.5},{"s":3,"t":25,"v":2.6},{"s":4,"t":25,"v":3.2},{"s":5,"t":25,"v":2.6},{"s":6,"t":25,"v":2.6},{"s":7,"t":25,"v":2.8},{"s":8,"t":25,"v":1.9},{"s":9,"t":25,"v":2.9},{"s":10,"t":25,"v":2.6},{"s":11,"t":25,"v":3.2},{"s":12,"t":25,"v":1.8},{"s":13,"t":25,"v":2.9},{"s":14,"t":25,"v":1.9},{"s":15,"t":25,"v":3.0},{"s":16,"t":25,"v":1.9},{"s":17,"t":25,"v":2.5},{"s":18,"t":25,"v":3.2},{"s":19,"t":25,"v":2.6},{"s":20,"t":25,"v":2.6},{"s":21,"t":25,"v":2.2},{"s":22,"t":25,"v":2.2},{"s":23,"t":25,"v":1.9},{"s":24,"t":25,"v":3.2},{"s":25,"t":25,"v":3.3},{"s":26,"t":25,"v":2.9},{"s":27,"t":25,"v":2.8},{"s":28,"t":25,"v":2.2},{"s":29,"t":25,"v":1.9},{"s":30,"t":25,"v":3.0},{"s":31,"t":25,"v":2.6},{"s":32,"t":25,"v":1.5},{"s":33,"t":25,"v":3.2},{"s":34,"t":25,"v":2.2},{"s":35,"t":25,"v":3.3},{"s":36,"t":25,"v":3.2},{"s":37,"t":25,"v":2.2},{"s":38,"t":25,"v":2.9},{"s":39,"t":25,"v":2.2},{"s":40,"t":25,"v":2.3},{"s":41,"t":25,"v":1.9},{"s":42,"t":25,"v":1.8},{"s":43,"t":25,"v":2.9},{"s":44,"t":25,"v":3.2},{"s":45,"t":25,"v":3.0},{"s":46,"t":25,"v":2.2},{"s":47,"t":25,"v":2.5},{"s":48,"t":25,"v":2.6},{"s":49,"t":25,"v":1.9},{"s":50,"t":25,"v":3.6},{"s":51,"t":25,"v":2.9},{"s":52,"t":25,"v":2.2},{"s":53,"t":25,"v":3.2},{"s":54,"t":25,"v":1.9},{"s":55,"t":25,"v":2.6},
{"s":1,"t":26,"v":3.3},{"s":2,"t":26,"v":2.2},{"s":3,"t":26,"v":3.3},{"s":4,"t":26,"v":3.8},{"s":5,"t":26,"v":2.2},{"s":6,"t":26,"v":2.9},{"s":7,"t":26,"v":3.8},{"s":8,"t":26,"v":2.6},{"s":9,"t":26,"v":3.3},{"s":10,"t":26,"v":2.2},{"s":11,"t":26,"v":3.8},{"s":12,"t":26,"v":2.6},{"s":13,"t":26,"v":3.7},{"s":14,"t":26,"v":2.2},{"s":15,"t":26,"v":2.5},{"s":16,"t":26,"v":2.2},{"s":17,"t":26,"v":3.3},{"s":18,"t":26,"v":4.2},{"s":19,"t":26,"v":2.9},{"s":20,"t":26,"v":2.2},{"s":21,"t":26,"v":2.6},{"s":22,"t":26,"v":2.9},{"s":23,"t":26,"v":2.6},{"s":24,"t":26,"v":3.8},{"s":25,"t":26,"v":2.9},{"s":26,"t":26,"v":3.3},{"s":27,"t":26,"v":3.8},{"s":28,"t":26,"v":3.0},{"s":29,"t":26,"v":2.2},{"s":30,"t":26,"v":2.5},{"s":31,"t":26,"v":2.9},{"s":32,"t":26,"v":2.2},{"s":33,"t":26,"v":4.2},{"s":34,"t":26,"v":2.6},{"s":35,"t":26,"v":2.9},{"s":36,"t":26,"v":3.8},{"s":37,"t":26,"v":2.9},{"s":38,"t":26,"v":3.7},{"s":39,"t":26,"v":2.6},{"s":40,"t":26,"v":1.8},{"s":41,"t":26,"v":2.2},{"s":42,"t":26,"v":2.6},{"s":43,"t":26,"v":3.7},{"s":44,"t":26,"v":3.8},{"s":45,"t":26,"v":2.5},{"s":46,"t":26,"v":2.6},{"s":47,"t":26,"v":3.3},{"s":48,"t":26,"v":3.3},{"s":49,"t":26,"v":2.2},{"s":50,"t":26,"v":3.4},{"s":51,"t":26,"v":3.3},{"s":52,"t":26,"v":2.9},{"s":53,"t":26,"v":4.2},{"s":54,"t":26,"v":2.2},{"s":55,"t":26,"v":2.2},
{"s":1,"t":27,"v":4.4},{"s":2,"t":27,"v":2.6},{"s":3,"t":27,"v":3.1},{"s":4,"t":27,"v":4.5},{"s":5,"t":27,"v":3.1},{"s":6,"t":27,"v":3.9},{"s":7,"t":27,"v":4.5},{"s":8,"t":27,"v":2.2},{"s":9,"t":27,"v":4.0},{"s":10,"t":27,"v":3.1},{"s":11,"t":27,"v":4.9},{"s":12,"t":27,"v":3.1},{"s":13,"t":27,"v":3.6},{"s":14,"t":27,"v":2.6},{"s":15,"t":27,"v":3.5},{"s":16,"t":27,"v":3.0},{"s":17,"t":27,"v":4.0},{"s":18,"t":27,"v":4.1},{"s":19,"t":27,"v":3.5},{"s":20,"t":27,"v":3.1},{"s":21,"t":27,"v":3.5},{"s":22,"t":27,"v":3.5},{"s":23,"t":27,"v":2.2},{"s":24,"t":27,"v":4.5},{"s":25,"t":27,"v":4.0},{"s":26,"t":27,"v":4.4},{"s":27,"t":27,"v":4.5},{"s":28,"t":27,"v":2.7},{"s":29,"t":27,"v":2.6},{"s":30,"t":27,"v":3.5},{"s":31,"t":27,"v":3.9},{"s":32,"t":27,"v":2.6},{"s":33,"t":27,"v":4.1},{"s":34,"t":27,"v":3.1},{"s":35,"t":27,"v":4.0},{"s":36,"t":27,"v":4.9},{"s":37,"t":27,"v":3.5},{"s":38,"t":27,"v":3.6},{"s":39,"t":27,"v":3.1},{"s":40,"t":27,"v":2.6},{"s":41,"t":27,"v":3.0},{"s":42,"t":27,"v":3.1},{"s":43,"t":27,"v":3.6},{"s":44,"t":27,"v":4.5},{"s":45,"t":27,"v":3.5},{"s":46,"t":27,"v":3.5},{"s":47,"t":27,"v":4.0},{"s":48,"t":27,"v":3.1},{"s":49,"t":27,"v":2.6},{"s":50,"t":27,"v":4.5},{"s":51,"t":27,"v":4.4},{"s":52,"t":27,"v":3.5},{"s":53,"t":27,"v":4.1},{"s":54,"t":27,"v":2.6},{"s":55,"t":27,"v":3.1},
{"s":1,"t":28,"v":2.7},{"s":2,"t":28,"v":2.0},{"s":3,"t":28,"v":2.8},{"s":4,"t":28,"v":3.9},{"s":5,"t":28,"v":2.4},{"s":6,"t":28,"v":2.4},{"s":7,"t":28,"v":3.5},{"s":8,"t":28,"v":2.0},{"s":9,"t":28,"v":3.5},{"s":10,"t":28,"v":2.4},{"s":11,"t":28,"v":3.1},{"s":12,"t":28,"v":2.4},{"s":13,"t":28,"v":3.1},{"s":14,"t":28,"v":2.4},{"s":15,"t":28,"v":2.8},{"s":16,"t":28,"v":1.6},{"s":17,"t":28,"v":3.1},{"s":18,"t":28,"v":3.5},{"s":19,"t":28,"v":3.2},{"s":20,"t":28,"v":2.4},{"s":21,"t":28,"v":2.0},{"s":22,"t":28,"v":2.8},{"s":23,"t":28,"v":2.0},{"s":24,"t":28,"v":3.9},{"s":25,"t":28,"v":3.1},{"s":26,"t":28,"v":2.7},{"s":27,"t":28,"v":3.5},{"s":28,"t":28,"v":2.4},{"s":29,"t":28,"v":2.4},{"s":30,"t":28,"v":2.8},{"s":31,"t":28,"v":2.4},{"s":32,"t":28,"v":2.0},{"s":33,"t":28,"v":3.5},{"s":34,"t":28,"v":2.8},{"s":35,"t":28,"v":3.1},{"s":36,"t":28,"v":3.1},{"s":37,"t":28,"v":2.8},{"s":38,"t":28,"v":3.1},{"s":39,"t":28,"v":2.8},{"s":40,"t":28,"v":2.0},{"s":41,"t":28,"v":1.6},{"s":42,"t":28,"v":2.4},{"s":43,"t":28,"v":3.1},{"s":44,"t":28,"v":3.9},{"s":45,"t":28,"v":2.8},{"s":46,"t":28,"v":2.0},{"s":47,"t":28,"v":3.1},{"s":48,"t":28,"v":2.8},{"s":49,"t":28,"v":2.4},{"s":50,"t":28,"v":3.5},{"s":51,"t":28,"v":2.7},{"s":52,"t":28,"v":2.8},{"s":53,"t":28,"v":3.5},{"s":54,"t":28,"v":2.4},{"s":55,"t":28,"v":2.4},
{"s":1,"t":29,"v":3.1},{"s":2,"t":29,"v":2.4},{"s":3,"t":29,"v":2.8},{"s":4,"t":29,"v":3.1},{"s":5,"t":29,"v":2.4},{"s":6,"t":29,"v":2.8},{"s":7,"t":29,"v":3.9},{"s":8,"t":29,"v":2.0},{"s":9,"t":29,"v":2.7},{"s":10,"t":29,"v":2.4},{"s":11,"t":29,"v":3.5},{"s":12,"t":29,"v":2.8},{"s":13,"t":29,"v":3.1},{"s":14,"t":29,"v":1.6},{"s":15,"t":29,"v":2.8},{"s":16,"t":29,"v":2.0},{"s":17,"t":29,"v":3.5},{"s":18,"t":29,"v":3.5},{"s":19,"t":29,"v":2.4},{"s":20,"t":29,"v":2.4},{"s":21,"t":29,"v":2.4},{"s":22,"t":29,"v":3.2},{"s":23,"t":29,"v":2.0},{"s":24,"t":29,"v":3.1},{"s":25,"t":29,"v":3.1},{"s":26,"t":29,"v":3.1},{"s":27,"t":29,"v":3.9},{"s":28,"t":29,"v":2.4},{"s":29,"t":29,"v":1.6},{"s":30,"t":29,"v":2.8},{"s":31,"t":29,"v":2.8},{"s":32,"t":29,"v":2.4},{"s":33,"t":29,"v":3.5},{"s":34,"t":29,"v":2.0},{"s":35,"t":29,"v":3.1},{"s":36,"t":29,"v":3.5},{"s":37,"t":29,"v":3.2},{"s":38,"t":29,"v":3.1},{"s":39,"t":29,"v":2.0},{"s":40,"t":29,"v":2.0},{"s":41,"t":29,"v":2.0},{"s":42,"t":29,"v":2.8},{"s":43,"t":29,"v":3.1},{"s":44,"t":29,"v":3.1},{"s":45,"t":29,"v":2.8},{"s":46,"t":29,"v":2.4},{"s":47,"t":29,"v":3.5},{"s":48,"t":29,"v":2.8},{"s":49,"t":29,"v":1.6},{"s":50,"t":29,"v":3.5},{"s":51,"t":29,"v":3.1},{"s":52,"t":29,"v":3.2},{"s":53,"t":29,"v":3.5},{"s":54,"t":29,"v":1.6},{"s":55,"t":29,"v":2.4},
{"s":1,"t":30,"v":3.1},{"s":2,"t":30,"v":1.6},{"s":3,"t":30,"v":2.7},{"s":4,"t":30,"v":3.4},{"s":5,"t":30,"v":2.7},{"s":6,"t":30,"v":2.7},{"s":7,"t":30,"v":3.0},{"s":8,"t":30,"v":2.0},{"s":9,"t":30,"v":3.1},{"s":10,"t":30,"v":2.7},{"s":11,"t":30,"v":3.4},{"s":12,"t":30,"v":1.9},{"s":13,"t":30,"v":3.1},{"s":14,"t":30,"v":2.0},{"s":15,"t":30,"v":3.1},{"s":16,"t":30,"v":2.0},{"s":17,"t":30,"v":2.7},{"s":18,"t":30,"v":3.4},{"s":19,"t":30,"v":2.7},{"s":20,"t":30,"v":2.7},{"s":21,"t":30,"v":2.3},{"s":22,"t":30,"v":2.3},{"s":23,"t":30,"v":2.0},{"s":24,"t":30,"v":3.4},{"s":25,"t":30,"v":3.5},{"s":26,"t":30,"v":3.1},{"s":27,"t":30,"v":3.0},{"s":28,"t":30,"v":2.3},{"s":29,"t":30,"v":2.0},{"s":30,"t":30,"v":3.1},{"s":31,"t":30,"v":2.7},{"s":32,"t":30,"v":1.6},{"s":33,"t":30,"v":3.4},{"s":34,"t":30,"v":2.3},{"s":35,"t":30,"v":3.5},{"s":36,"t":30,"v":3.4},{"s":37,"t":30,"v":2.3},{"s":38,"t":30,"v":3.1},{"s":39,"t":30,"v":2.3},{"s":40,"t":30,"v":2.4},{"s":41,"t":30,"v":2.0},{"s":42,"t":30,"v":1.9},{"s":43,"t":30,"v":3.1},{"s":44,"t":30,"v":3.4},{"s":45,"t":30,"v":3.1},{"s":46,"t":30,"v":2.3},{"s":47,"t":30,"v":2.7},{"s":48,"t":30,"v":2.7},{"s":49,"t":30,"v":2.0},{"s":50,"t":30,"v":3.8},{"s":51,"t":30,"v":3.1},{"s":52,"t":30,"v":2.3},{"s":53,"t":30,"v":3.4},{"s":54,"t":30,"v":2.0},{"s":55,"t":30,"v":2.7},
{"s":1,"t":31,"v":2.5},{"s":2,"t":31,"v":1.6},{"s":3,"t":31,"v":2.5},{"s":4,"t":31,"v":2.7},{"s":5,"t":31,"v":1.5},{"s":6,"t":31,"v":2.1},{"s":7,"t":31,"v":2.7},{"s":8,"t":31,"v":2.0},{"s":9,"t":31,"v":2.5},{"s":10,"t":31,"v":1.5},{"s":11,"t":31,"v":2.7},{"s":12,"t":31,"v":1.9},{"s":13,"t":31,"v":2.9},{"s":14,"t":31,"v":1.6},{"s":15,"t":31,"v":1.7},{"s":16,"t":31,"v":1.6},{"s":17,"t":31,"v":2.5},{"s":18,"t":31,"v":3.1},{"s":19,"t":31,"v":2.1},{"s":20,"t":31,"v":1.5},{"s":21,"t":31,"v":1.9},{"s":22,"t":31,"v":2.1},{"s":23,"t":31,"v":2.0},{"s":24,"t":31,"v":2.7},{"s":25,"t":31,"v":2.1},{"s":26,"t":31,"v":2.5},{"s":27,"t":31,"v":2.7},{"s":28,"t":31,"v":2.3},{"s":29,"t":31,"v":1.6},{"s":30,"t":31,"v":1.7},{"s":31,"t":31,"v":2.1},{"s":32,"t":31,"v":1.6},{"s":33,"t":31,"v":3.1},{"s":34,"t":31,"v":1.9},{"s":35,"t":31,"v":2.1},{"s":36,"t":31,"v":2.7},{"s":37,"t":31,"v":2.1},{"s":38,"t":31,"v":2.9},{"s":39,"t":31,"v":1.9},{"s":40,"t":31,"v":1.2},{"s":41,"t":31,"v":1.6},{"s":42,"t":31,"v":1.9},{"s":43,"t":31,"v":2.9},{"s":44,"t":31,"v":2.7},{"s":45,"t":31,"v":1.7},{"s":46,"t":31,"v":1.9},{"s":47,"t":31,"v":2.5},{"s":48,"t":31,"v":2.5},{"s":49,"t":31,"v":1.6},{"s":50,"t":31,"v":2.3},{"s":51,"t":31,"v":2.5},{"s":52,"t":31,"v":2.1},{"s":53,"t":31,"v":3.1},{"s":54,"t":31,"v":1.6},{"s":55,"t":31,"v":1.5},
{"s":1,"t":32,"v":3.7},{"s":2,"t":32,"v":2.1},{"s":3,"t":32,"v":2.5},{"s":4,"t":32,"v":3.7},{"s":5,"t":32,"v":2.5},{"s":6,"t":32,"v":3.3},{"s":7,"t":32,"v":3.7},{"s":8,"t":32,"v":1.7},{"s":9,"t":32,"v":3.3},{"s":10,"t":32,"v":2.5},{"s":11,"t":32,"v":4.1},{"s":12,"t":32,"v":2.5},{"s":13,"t":32,"v":2.9},{"s":14,"t":32,"v":2.1},{"s":15,"t":32,"v":2.9},{"s":16,"t":32,"v":2.5},{"s":17,"t":32,"v":3.3},{"s":18,"t":32,"v":3.3},{"s":19,"t":32,"v":2.9},{"s":20,"t":32,"v":2.5},{"s":21,"t":32,"v":2.9},{"s":22,"t":32,"v":2.9},{"s":23,"t":32,"v":1.7},{"s":24,"t":32,"v":3.7},{"s":25,"t":32,"v":3.3},{"s":26,"t":32,"v":3.7},{"s":27,"t":32,"v":3.7},{"s":28,"t":32,"v":2.1},{"s":29,"t":32,"v":2.1},{"s":30,"t":32,"v":2.9},{"s":31,"t":32,"v":3.3},{"s":32,"t":32,"v":2.1},{"s":33,"t":32,"v":3.3},{"s":34,"t":32,"v":2.5},{"s":35,"t":32,"v":3.3},{"s":36,"t":32,"v":4.1},{"s":37,"t":32,"v":2.9},{"s":38,"t":32,"v":2.9},{"s":39,"t":32,"v":2.5},{"s":40,"t":32,"v":2.1},{"s":41,"t":32,"v":2.5},{"s":42,"t":32,"v":2.5},{"s":43,"t":32,"v":2.9},{"s":44,"t":32,"v":3.7},{"s":45,"t":32,"v":2.9},{"s":46,"t":32,"v":2.9},{"s":47,"t":32,"v":3.3},{"s":48,"t":32,"v":2.5},{"s":49,"t":32,"v":2.1},{"s":50,"t":32,"v":3.7},{"s":51,"t":32,"v":3.7},{"s":52,"t":32,"v":2.9},{"s":53,"t":32,"v":3.3},{"s":54,"t":32,"v":2.1},{"s":55,"t":32,"v":2.5},
{"s":1,"t":33,"v":3.5},{"s":2,"t":33,"v":2.5},{"s":3,"t":33,"v":3.4},{"s":4,"t":33,"v":4.7},{"s":5,"t":33,"v":3.0},{"s":6,"t":33,"v":3.0},{"s":7,"t":33,"v":4.3},{"s":8,"t":33,"v":2.5},{"s":9,"t":33,"v":4.3},{"s":10,"t":33,"v":3.0},{"s":11,"t":33,"v":3.9},{"s":12,"t":33,"v":3.0},{"s":13,"t":33,"v":3.9},{"s":14,"t":33,"v":2.9},{"s":15,"t":33,"v":3.4},{"s":16,"t":33,"v":2.1},{"s":17,"t":33,"v":3.9},{"s":18,"t":33,"v":4.3},{"s":19,"t":33,"v":3.8},{"s":20,"t":33,"v":3.0},{"s":21,"t":33,"v":2.6},{"s":22,"t":33,"v":3.4},{"s":23,"t":33,"v":2.5},{"s":24,"t":33,"v":4.7},{"s":25,"t":33,"v":3.9},{"s":26,"t":33,"v":3.5},{"s":27,"t":33,"v":4.3},{"s":28,"t":33,"v":3.0},{"s":29,"t":33,"v":2.9},{"s":30,"t":33,"v":3.4},{"s":31,"t":33,"v":3.0},{"s":32,"t":33,"v":2.5},{"s":33,"t":33,"v":4.3},{"s":34,"t":33,"v":3.4},{"s":35,"t":33,"v":3.9},{"s":36,"t":33,"v":3.9},{"s":37,"t":33,"v":3.4},{"s":38,"t":33,"v":3.9},{"s":39,"t":33,"v":3.4},{"s":40,"t":33,"v":2.5},{"s":41,"t":33,"v":2.1},{"s":42,"t":33,"v":3.0},{"s":43,"t":33,"v":3.9},{"s":44,"t":33,"v":4.7},{"s":45,"t":33,"v":3.4},{"s":46,"t":33,"v":2.6},{"s":47,"t":33,"v":3.9},{"s":48,"t":33,"v":3.4},{"s":49,"t":33,"v":2.9},{"s":50,"t":33,"v":4.3},{"s":51,"t":33,"v":3.5},{"s":52,"t":33,"v":3.4},{"s":53,"t":33,"v":4.3},{"s":54,"t":33,"v":2.9},{"s":55,"t":33,"v":3.0},
{"s":1,"t":34,"v":3.0},{"s":2,"t":34,"v":2.3},{"s":3,"t":34,"v":2.6},{"s":4,"t":34,"v":2.9},{"s":5,"t":34,"v":2.3},{"s":6,"t":34,"v":2.6},{"s":7,"t":34,"v":3.7},{"s":8,"t":34,"v":1.9},{"s":9,"t":34,"v":2.6},{"s":10,"t":34,"v":2.3},{"s":11,"t":34,"v":3.3},{"s":12,"t":34,"v":2.7},{"s":13,"t":34,"v":3.0},{"s":14,"t":34,"v":1.5},{"s":15,"t":34,"v":2.6},{"s":16,"t":34,"v":1.9},{"s":17,"t":34,"v":3.4},{"s":18,"t":34,"v":3.3},{"s":19,"t":34,"v":2.2},{"s":20,"t":34,"v":2.3},{"s":21,"t":34,"v":2.3},{"s":22,"t":34,"v":3.0},{"s":23,"t":34,"v":1.9},{"s":24,"t":34,"v":2.9},{"s":25,"t":34,"v":3.0},{"s":26,"t":34,"v":3.0},{"s":27,"t":34,"v":3.7},{"s":28,"t":34,"v":2.3},{"s":29,"t":34,"v":1.5},{"s":30,"t":34,"v":2.6},{"s":31,"t":34,"v":2.6},{"s":32,"t":34,"v":2.3},{"s":33,"t":34,"v":3.3},{"s":34,"t":34,"v":1.9},{"s":35,"t":34,"v":3.0},{"s":36,"t":34,"v":3.3},{"s":37,"t":34,"v":3.0},{"s":38,"t":34,"v":3.0},{"s":39,"t":34,"v":1.9},{"s":40,"t":34,"v":1.9},{"s":41,"t":34,"v":1.9},{"s":42,"t":34,"v":2.7},{"s":43,"t":34,"v":3.0},{"s":44,"t":34,"v":2.9},{"s":45,"t":34,"v":2.6},{"s":46,"t":34,"v":2.3},{"s":47,"t":34,"v":3.4},{"s":48,"t":34,"v":2.6},{"s":49,"t":34,"v":1.5},{"s":50,"t":34,"v":3.3},{"s":51,"t":34,"v":3.0},{"s":52,"t":34,"v":3.0},{"s":53,"t":34,"v":3.3},{"s":54,"t":34,"v":1.5},{"s":55,"t":34,"v":2.3},
{"s":1,"t":35,"v":3.8},{"s":2,"t":35,"v":2.1},{"s":3,"t":35,"v":3.4},{"s":4,"t":35,"v":4.3},{"s":5,"t":35,"v":3.3},{"s":6,"t":35,"v":3.4},{"s":7,"t":35,"v":3.9},{"s":8,"t":35,"v":2.5},{"s":9,"t":35,"v":3.8},{"s":10,"t":35,"v":3.3},{"s":11,"t":35,"v":4.3},{"s":12,"t":35,"v":2.5},{"s":13,"t":35,"v":3.8},{"s":14,"t":35,"v":2.5},{"s":15,"t":35,"v":3.8},{"s":16,"t":35,"v":2.5},{"s":17,"t":35,"v":3.4},{"s":18,"t":35,"v":4.3},{"s":19,"t":35,"v":3.4},{"s":20,"t":35,"v":3.3},{"s":21,"t":35,"v":2.9},{"s":22,"t":35,"v":3.0},{"s":23,"t":35,"v":2.5},{"s":24,"t":35,"v":4.3},{"s":25,"t":35,"v":4.2},{"s":26,"t":35,"v":3.8},{"s":27,"t":35,"v":3.9},{"s":28,"t":35,"v":2.9},{"s":29,"t":35,"v":2.5},{"s":30,"t":35,"v":3.8},{"s":31,"t":35,"v":3.4},{"s":32,"t":35,"v":2.1},{"s":33,"t":35,"v":4.3},{"s":34,"t":35,"v":2.9},{"s":35,"t":35,"v":4.2},{"s":36,"t":35,"v":4.3},{"s":37,"t":35,"v":3.0},{"s":38,"t":35,"v":3.8},{"s":39,"t":35,"v":2.9},{"s":40,"t":35,"v":2.9},{"s":41,"t":35,"v":2.5},{"s":42,"t":35,"v":2.5},{"s":43,"t":35,"v":3.8},{"s":44,"t":35,"v":4.3},{"s":45,"t":35,"v":3.8},{"s":46,"t":35,"v":2.9},{"s":47,"t":35,"v":3.4},{"s":48,"t":35,"v":3.4},{"s":49,"t":35,"v":2.5},{"s":50,"t":35,"v":4.7},{"s":51,"t":35,"v":3.8},{"s":52,"t":35,"v":3.0},{"s":53,"t":35,"v":4.3},{"s":54,"t":35,"v":2.5},{"s":55,"t":35,"v":3.3},
{"s":1,"t":36,"v":3.7},{"s":2,"t":36,"v":2.4},{"s":3,"t":36,"v":3.7},{"s":4,"t":36,"v":4.2},{"s":5,"t":36,"v":2.5},{"s":6,"t":36,"v":3.3},{"s":7,"t":36,"v":4.2},{"s":8,"t":36,"v":2.8},{"s":9,"t":36,"v":3.7},{"s":10,"t":36,"v":2.5},{"s":11,"t":36,"v":4.2},{"s":12,"t":36,"v":2.9},{"s":13,"t":36,"v":4.1},{"s":14,"t":36,"v":2.4},{"s":15,"t":36,"v":2.9},{"s":16,"t":36,"v":2.4},{"s":17,"t":36,"v":3.7},{"s":18,"t":36,"v":4.6},{"s":19,"t":36,"v":3.3},{"s":20,"t":36,"v":2.5},{"s":21,"t":36,"v":2.9},{"s":22,"t":36,"v":3.3},{"s":23,"t":36,"v":2.8},{"s":24,"t":36,"v":4.2},{"s":25,"t":36,"v":3.3},{"s":26,"t":36,"v":3.7},{"s":27,"t":36,"v":4.2},{"s":28,"t":36,"v":3.3},{"s":29,"t":36,"v":2.4},{"s":30,"t":36,"v":2.9},{"s":31,"t":36,"v":3.3},{"s":32,"t":36,"v":2.4},{"s":33,"t":36,"v":4.6},{"s":34,"t":36,"v":2.9},{"s":35,"t":36,"v":3.3},{"s":36,"t":36,"v":4.2},{"s":37,"t":36,"v":3.3},{"s":38,"t":36,"v":4.1},{"s":39,"t":36,"v":2.9},{"s":40,"t":36,"v":2.0},{"s":41,"t":36,"v":2.4},{"s":42,"t":36,"v":2.9},{"s":43,"t":36,"v":4.1},{"s":44,"t":36,"v":4.2},{"s":45,"t":36,"v":2.9},{"s":46,"t":36,"v":2.9},{"s":47,"t":36,"v":3.7},{"s":48,"t":36,"v":3.7},{"s":49,"t":36,"v":2.4},{"s":50,"t":36,"v":3.8},{"s":51,"t":36,"v":3.7},{"s":52,"t":36,"v":3.3},{"s":53,"t":36,"v":4.6},{"s":54,"t":36,"v":2.4},{"s":55,"t":36,"v":2.5}
],
"box":[
{"label":"Achievement Instinct","x1":0.6,"x2":10.0,"y1":211.4,"y2":235.0,"tx":5.2,"ty":222.1},
{"label":"Preparedness for Change","x1":11.13,"x2":21.99,"y1":211.7,"y2":236.0,"tx":16.5,"ty":223.2},
{"label":"Personal Manifestation","x1":23.26,"x2":33.92,"y1":211.7,"y2":235.6,"tx":28.27,"ty":223.0},
{"label":"Stress Tolerance","x1":27.39,"x2":35.03,"y1":76.6,"y2":99.5,"tx":31.1,"ty":86.7}
],
"arr":[
{"t":8,"y":202.8,"dir":"down"},
{"t":20,"y":207.6,"dir":"down"},
{"t":27,"y":206.6,"dir":"down"},
{"t":31,"y":106.0,"dir":"up"}
],
"bul":[
{"b":"55 active entrepreneurs"},
{"b":"Personality test PAPA"},
{"b":"36 traits"}
]
},
"layer":[
{"data":{"name":"d"},
 "mark":{"type":"area","interpolate":"linear","stroke":"#ffffff","strokeWidth":0.5,"strokeOpacity":0.45},
 "encoding":{
  "x":{"field":"t","type":"quantitative","scale":{"domain":[0.5,36.5],"nice":false,"zero":false},"axis":null},
  "y":{"field":"v","type":"quantitative","stack":"zero","scale":{"domain":[0,250],"nice":false},
       "axis":{"values":[0,50,100,150,200,250],"title":null,"grid":true,"gridColor":"#8C8C8C","gridWidth":2,"domain":true,"domainColor":"#8C8C8C","domainWidth":2,"ticks":true,"tickColor":"#8C8C8C","tickWidth":2,"tickSize":10,"labelFont":"Lato","labelFontSize":28,"labelColor":"#000000","labelPadding":22}},
  "color":{"field":"s","type":"ordinal","legend":null,
    "scale":{"domain":[1,2,3,4,5,6,7,8,9,10,11,12,13,14,15,16,17,18,19,20,21,22,23,24,25,26,27,28,29,30,31,32,33,34,35,36,37,38,39,40,41,42,43,44,45,46,47,48,49,50,51,52,53,54,55],
     "range":["#34557D","#7F3533","#667B3B","#54426B","#327283","#A3632E","#3D6392","#943E3B","#779045","#634D7D","#3A8498","#BE7436","#4672A6","#A94644","#88A54E","#71588F","#4297AE","#D9843E","#4F81BD","#C0504D","#9BBB59","#8064A2","#4BACC6","#F79646","#628FC4","#C76361","#A6C36B","#8E75AC","#5FB5CC","#F8A25A","#769DCB","#CE7674","#B1CA7E","#9C86B6","#73BED3","#F9AD6F","#89ABD3","#D58A88","#BCD190","#AA97C0","#86C7D9","#FAB983","#9CB8DA","#DC9D9B","#C7D9A2","#B8A8CB","#9AD1DF","#FBC497","#B0C6E1","#E3B0AF","#D2E0B4","#C6B9D5","#AEDAE5","#FBD0AC","#C3D4E9"]}},
  "order":{"field":"s","type":"quantitative","sort":"ascending"}
 }},
{"data":{"name":"box"},
 "mark":{"type":"rect","fill":"#ffffff","stroke":"#000000","strokeWidth":2.5},
 "encoding":{"x":{"field":"x1","type":"quantitative","axis":null},"x2":{"field":"x2"},
   "y":{"field":"y1","type":"quantitative","axis":null,"scale":{"domain":[0,250],"nice":false}},"y2":{"field":"y2"}}},
{"data":{"name":"box"},
 "mark":{"type":"text","font":"Lato","fontSize":34,"color":"#000000","align":"center","baseline":"middle"},
 "encoding":{"x":{"field":"tx","type":"quantitative","axis":null},
   "y":{"field":"ty","type":"quantitative","axis":null,"scale":{"domain":[0,250],"nice":false}},"text":{"field":"label"}}},
{"data":{"name":"arr"},
 "mark":{"type":"point","filled":true,"fill":"#FF0000","stroke":"#3B5E8C","strokeWidth":6,"strokeJoin":"miter","size":2500,"opacity":1},
 "encoding":{"x":{"field":"t","type":"quantitative","axis":null},
  "y":{"field":"y","type":"quantitative","axis":null,"scale":{"domain":[0,250],"nice":false}},
  "shape":{"field":"dir","type":"nominal","legend":null,"scale":{"domain":["down","up"],"range":["M -0.44 -1 L 0.44 -1 L 0.44 0.05 L 1 0.05 L 0 1 L -1 0.05 L -0.44 0.05 Z","M -0.44 1 L 0.44 1 L 0.44 -0.05 L 1 -0.05 L 0 -1 L -1 -0.05 L -0.44 -0.05 Z"]}}}},
{"data":{"name":"bul"},
 "mark":{"type":"point","filled":true,"opacity":0},
 "encoding":{
  "y":{"datum":250,"type":"quantitative","scale":{"domain":[0,250],"range":[766,-25]},
       "axis":{"orient":"left","offset":103,"title":null,"labels":false,"ticks":false,"grid":false,"domain":true,"domainColor":"#A6A6A6","domainWidth":1.5}},
  "color":{"field":"b","type":"nominal",
    "scale":{"domain":["55 active entrepreneurs","Personality test PAPA","36 traits"],"range":["#F08A2F","#F08A2F","#F08A2F"]},
    "legend":{"orient":"none","legendX":-265.5,"legendY":211,"title":null,"symbolType":"square","symbolSize":961,"symbolOpacity":1,"symbolStrokeWidth":0,"labelFont":"Lato","labelFontSize":44,"labelColor":"#404040","labelOffset":24,"labelLimit":1000,"rowPadding":42,"padding":0}}
 }}
],
"resolve":{"scale":{"y":"independent","color":"independent"}}
}
